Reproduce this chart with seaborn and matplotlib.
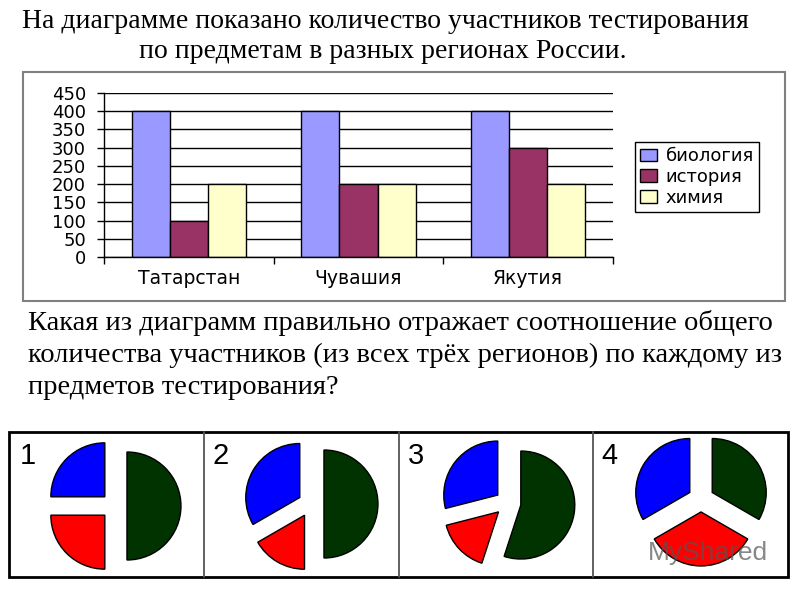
import numpy as np
import pandas as pd
import matplotlib
matplotlib.use("Agg")
import matplotlib.pyplot as plt
import seaborn as sns
from matplotlib.patches import Rectangle

# bar chart data
regions = ['Татарстан', 'Чувашия', 'Якутия']
subjects = ['биология', 'история', 'химия']
biology = [400, 400, 400]
history = [100, 200, 300]
chemistry = [200, 200, 200]
bar_colors = ['#9999FF', '#993366', '#FFFFCC']

# answer options: shares of blue, red, green (counterclockwise from the top)
option_names = ['1', '2', '3', '4']
option1 = [1, 1, 2]
option2 = [2, 1, 3]
option3 = [29, 16, 55]
option4 = [1, 1, 1]
pie_colors = ['#0000FF', '#FF0000', '#003300']

title = "На диаграмме показано количество участников тестирования\nпо предметам в разных регионах России."
question = ["Какая из диаграмм правильно отражает соотношение общего",
            "количества участников (из всех трёх регионов) по каждому из",
            "предметов тестирования?"]

sns.set_theme(style="white")
plt.rcParams['font.family'] = ['DejaVu Sans']
plt.rcParams['text.color'] = 'black'
plt.rcParams['xtick.color'] = 'black'
plt.rcParams['ytick.color'] = 'black'

W, H = 800, 600
fig = plt.figure(figsize=(8, 6), dpi=100)
fig.patch.set_facecolor('white')


def box(x0, y0, x1, y1):
    # pixel box (top-left origin) -> figure fraction rect
    return [x0 / W, 1 - y1 / H, (x1 - x0) / W, (y1 - y0) / H]


serif = ['Liberation Serif', 'DejaVu Serif']

fig.text(385 / W, 1 - 21 / H, title.split("\n")[0], ha='center', va='center',
         fontsize=20, family=serif)
fig.text(383 / W, 1 - 52 / H, title.split("\n")[1], ha='center', va='center',
         fontsize=20, family=serif)

# chart frame
fig.add_artist(Rectangle((23 / W, 1 - 301 / H), (785 - 23) / W, (301 - 72) / H,
                         transform=fig.transFigure, fill=False,
                         edgecolor='#808080', linewidth=1.5))

df = pd.DataFrame({
    'region': regions * 3,
    'subject': [s for s in subjects for _ in regions],
    'count': biology + history + chemistry,
})

ax = fig.add_axes(box(104, 93, 613, 257))
sns.barplot(data=df, x='region', y='count', hue='subject', palette=bar_colors,
            saturation=1, width=0.675, gap=0, edgecolor='black', linewidth=1,
            ax=ax)
ax.set_ylim(0, 450)
ax.set_xlim(-0.5, 2.5)
ax.set_yticks(np.arange(0, 451, 50))
ax.set_xlabel('')
ax.set_ylabel('')
ax.grid(axis='y', color='black', linewidth=1)
ax.set_axisbelow(True)
for s in ['top', 'right']:
    ax.spines[s].set_visible(False)
for s in ['left', 'bottom']:
    ax.spines[s].set_color('black')
    ax.spines[s].set_linewidth(1)
ax.tick_params(axis='y', length=5, width=1, color='black', direction='out',
               left=True, labelsize=13, pad=8)
ax.tick_params(axis='x', length=0, labelsize=13.5, pad=9)
ax.set_xticks([-0.5, 0.5, 1.5, 2.5], minor=True)
ax.tick_params(axis='x', which='minor', length=5, width=1, color='black',
               direction='out', bottom=True)

handles, labels = ax.get_legend_handles_labels()
ax.legend(handles, labels, loc='upper left',
          bbox_to_anchor=(635 / W, 1 - 142 / H), bbox_transform=fig.transFigure,
          frameon=True, fancybox=False, edgecolor='black', framealpha=1,
          fontsize=13, handlelength=0.9, handleheight=0.7, handletextpad=0.5,
          labelspacing=0.15, borderpad=0.3, borderaxespad=0)
ax.get_legend().get_frame().set_linewidth(1)

# question text
for i, line in enumerate(question):
    fig.text(28 / W, 1 - (323 + 32.5 * i) / H, line, ha='left', va='center',
             fontsize=20.5, family=serif)

# answer table
fig.add_artist(Rectangle((9 / W, 1 - 577 / H), (788 - 9) / W, (577 - 432) / H,
                         transform=fig.transFigure, fill=False,
                         edgecolor='black', linewidth=2))
for xv in [204, 399, 593]:
    fig.add_artist(plt.Line2D([xv / W, xv / W], [1 - 432 / H, 1 - 577 / H],
                              transform=fig.transFigure, color='#555555',
                              linewidth=1.3))

options = [option1, option2, option3, option4]
centers = [(114, 506), (311, 504), (508, 503), (701, 499)]
label_x = [20, 213, 408, 601]
S = 162
for name, vals, (cx, cy), lx in zip(option_names, options, centers, label_x):
    pax = fig.add_axes(box(cx - S / 2, cy - S / 2, cx + S / 2, cy + S / 2))
    pax.pie(vals, colors=pie_colors, startangle=90, counterclock=True,
            explode=[0.24] * len(vals),
            wedgeprops=dict(edgecolor='black', linewidth=1))
    pax.set_xlim(-1.5, 1.5)
    pax.set_ylim(-1.5, 1.5)
    pax.set_aspect('equal')
    pax.axis('off')
    fig.text(lx / W, 1 - 456 / H, name, ha='left', va='center', fontsize=21,
             family=['Liberation Sans', 'DejaVu Sans'])

fig.text(648 / W, 1 - 553 / H, 'MyShared', ha='left', va='center', fontsize=19,
         color='#555555', alpha=0.7, family=['Liberation Sans', 'DejaVu Sans'])

fig.savefig('out.png', dpi=100)
